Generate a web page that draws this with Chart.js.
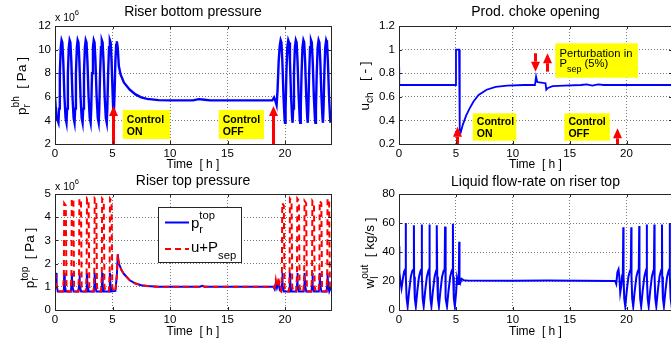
<!DOCTYPE html>
<html><head><meta charset="utf-8">
<script src="https://cdn.jsdelivr.net/npm/chart.js@4.4.1/dist/chart.umd.min.js"></script>
<style>
html,body{margin:0;padding:0;background:#fff;width:671px;height:343px;overflow:hidden;position:relative}
canvas{position:absolute}
</style></head><body>
<canvas id="c1" width="336" height="172" style="left:0;top:0"></canvas>
<canvas id="c2" width="336" height="172" style="left:336px;top:0"></canvas>
<canvas id="c3" width="336" height="171" style="left:0;top:172px"></canvas>
<canvas id="c4" width="336" height="171" style="left:336px;top:172px"></canvas>
<script>
// ---------- tick labels ----------
const X_TICKS = [0, 5, 10, 15, 20];
const Y_TICKS_PBH = [2, 4, 6, 8, 10, 12];
const Y_TICKS_U = [0.2, 0.4, 0.6, 0.8, 1, 1.2];
const Y_TICKS_PTOP = [0, 1, 2, 3, 4, 5];
const Y_TICKS_W = [0, 20, 40, 60, 80];

// ---------- Riser bottom pressure (x10^6 Pa) ----------
const PBH_T = [0,0.12,
0.30,0.35,0.42,0.50,0.57,0.64,0.72,0.82,0.92,
1.00,1.05,1.12,1.20,1.27,1.34,1.42,1.52,1.62,
1.70,1.75,1.82,1.90,1.97,2.04,2.12,2.22,2.32,
2.40,2.45,2.52,2.60,2.67,2.74,2.82,2.92,3.02,
3.10,3.15,3.22,3.30,3.37,3.44,3.52,3.62,3.72,
3.80,3.85,3.92,4.00,4.07,4.14,4.22,4.32,4.42,
4.50,4.55,4.62,4.70,4.77,4.84,4.92,5.02,
5.10,5.17,5.25,5.32,5.38,5.46,5.55,5.70,6.0,6.5,7.0,7.5,8.0,9.0,10.0,12.0,12.5,13.0,13.5,15.0,18.9,19.05,19.15,19.27,19.35,19.45,19.54,
19.62,19.69,19.77,19.87,19.96,20.00,20.05,20.12,20.20,
20.28,20.35,20.43,20.53,20.62,20.66,20.71,20.78,20.86,
20.94,21.01,21.09,21.19,21.28,21.32,21.37,21.44,21.52,
21.60,21.67,21.75,21.85,21.94,21.98,22.03,22.10,22.18,
22.26,22.33,22.41,22.51,22.60,22.64,22.69,22.76,22.84,
22.92,22.99,23.07,23.17,23.26,23.30,23.35,23.42,23.50,
23.58,23.65,23.73,23.83,23.92,23.96,24.0];
const PBH_V = [6.0,4.3,
3.8,5.0,8.0,10.2,10.8,10.6,9.0,6.0,4.2,
3.8,5.0,8.0,10.2,10.8,10.6,9.0,6.0,4.2,
3.8,5.0,8.0,10.2,10.8,10.6,9.0,6.0,4.2,
3.8,5.0,8.0,10.2,10.8,10.6,9.0,6.0,4.2,
3.8,5.0,8.0,10.2,10.8,10.6,9.0,6.0,4.2,
3.8,5.0,8.0,10.2,10.8,10.6,9.0,6.0,4.2,
3.8,5.0,8.0,10.2,10.8,10.6,9.0,6.0,
4.0,6.0,9.0,10.4,10.7,10.1,8.6,7.9,7.2,6.6,6.2,5.95,5.82,5.72,5.7,5.7,5.8,5.75,5.7,5.7,5.7,5.95,5.7,5.3,6.5,9.0,10.3,
10.8,10.6,9.0,6.0,4.2,3.8,5.0,8.0,10.2,
10.8,10.6,9.0,6.0,4.2,3.8,5.0,8.0,10.2,
10.8,10.6,9.0,6.0,4.2,3.8,5.0,8.0,10.2,
10.8,10.6,9.0,6.0,4.2,3.8,5.0,8.0,10.2,
10.8,10.6,9.0,6.0,4.2,3.8,5.0,8.0,10.2,
10.8,10.6,9.0,6.0,4.2,3.8,5.0,8.0,10.2,
10.8,10.6,9.0,6.0,4.2,3.8,4.6];

// ---------- Prod. choke opening ----------
const U_T = [0,0.02,4.99,5.01,5.28,5.34,5.43,5.6,5.9,6.2,6.55,7.0,7.7,8.5,9.5,11.0,11.95,12.05,12.15,12.5,12.88,12.95,13.1,13.5,14.5,16.0,16.5,17.0,17.5,18.0,24.0];
const U_V = [0.85,0.70,0.70,1.0,1.0,0.32,0.30,0.36,0.44,0.50,0.56,0.615,0.66,0.685,0.695,0.70,0.70,0.77,0.725,0.72,0.715,0.66,0.675,0.69,0.695,0.70,0.705,0.695,0.705,0.70,0.70];

// ---------- Riser top pressure (x10^6 Pa) ----------
const PTOP_T = [0,0.04,0.09,0.14,0.24,
0.72,0.78,0.80,0.85,0.95,
1.38,1.44,1.46,1.51,1.61,
2.04,2.10,2.12,2.17,2.27,
2.70,2.76,2.78,2.83,2.93,
3.37,3.43,3.45,3.50,3.60,
4.02,4.08,4.10,4.15,4.25,
4.70,4.76,4.78,4.83,4.93,
5.25,5.38,5.46,5.52,5.6,5.8,6.0,6.5,7.0,7.5,8.0,9.0,12.6,12.8,13.0,19.0,19.1,19.2,19.3,19.45,19.55,
19.68,19.74,19.76,19.81,19.91,
20.35,20.41,20.43,20.48,20.58,
20.99,21.05,21.07,21.12,21.22,
21.62,21.68,21.70,21.75,21.85,
22.30,22.36,22.38,22.43,22.53,
22.94,23.00,23.02,23.07,23.17,
23.62,23.68,23.70,23.75,23.85,24.0];
const PTOP_V = [1.3,1.0,1.6,1.05,0.8,
0.8,1.1,1.6,1.05,0.8,
0.8,1.1,1.6,1.05,0.8,
0.8,1.1,1.6,1.05,0.8,
0.8,1.1,1.6,1.05,0.8,
0.8,1.1,1.6,1.05,0.8,
0.8,1.1,1.6,1.05,0.8,
0.8,1.1,1.6,1.05,0.8,
0.82,1.5,2.4,2.1,1.95,1.7,1.55,1.28,1.14,1.07,1.03,1.0,1.0,1.04,1.0,1.0,0.9,1.15,0.95,1.2,0.85,
0.8,1.1,1.6,1.05,0.8,
0.8,1.1,1.6,1.05,0.8,
0.8,1.1,1.6,1.05,0.8,
0.8,1.1,1.6,1.05,0.8,
0.8,1.1,1.6,1.05,0.8,
0.8,1.1,1.6,1.05,0.8,
0.8,1.1,1.6,1.05,0.8,1.0];

const UPSEP_T = [0,0.05,0.1,0.2,
0.70,0.77,0.80,0.94,1.00,1.10,
1.36,1.43,1.46,1.60,1.66,1.76,
2.02,2.09,2.12,2.26,2.32,2.42,
2.68,2.75,2.78,2.92,2.98,3.08,
3.35,3.42,3.45,3.59,3.65,3.75,
4.00,4.07,4.10,4.24,4.30,4.40,
4.68,4.75,4.78,4.92,4.98,5.08,
5.25,5.38,5.46,5.52,5.6,5.8,6.0,6.5,7.0,7.5,8.0,9.0,12.6,12.8,13.0,19.0,19.1,19.2,19.3,19.45,19.55,
19.66,19.73,19.76,19.90,19.96,20.06,
20.33,20.40,20.43,20.57,20.63,20.73,
20.97,21.04,21.07,21.21,21.27,21.37,
21.60,21.67,21.70,21.84,21.90,22.00,
22.28,22.35,22.38,22.52,22.58,22.68,
22.92,22.99,23.02,23.16,23.22,23.32,
23.60,23.67,23.70,23.84,23.90,24.0];
const UPSEP_V = [1.6,1.5,1.2,0.8,
0.8,1.5,4.6,4.5,1.0,0.8,
0.8,1.5,4.8,4.7,1.0,0.8,
0.8,1.5,4.8,4.7,1.0,0.8,
0.8,1.5,4.8,4.7,1.0,0.8,
0.8,1.5,4.8,4.7,1.0,0.8,
0.8,1.5,4.8,4.7,1.0,0.8,
0.8,1.5,4.8,4.7,1.0,0.8,
0.82,1.5,2.4,2.1,1.95,1.7,1.55,1.28,1.14,1.07,1.03,1.0,1.0,1.04,1.0,1.0,0.95,1.3,1.0,1.4,0.85,
0.8,1.5,4.6,4.5,1.0,0.8,
0.8,1.5,4.8,4.7,1.0,0.8,
0.8,1.5,4.8,4.7,1.0,0.8,
0.8,1.5,4.7,4.6,1.0,0.8,
0.8,1.5,4.7,4.6,1.0,0.8,
0.8,1.5,4.7,4.6,1.0,0.8,
0.8,1.5,4.8,4.7,1.0,0.8];

// ---------- Liquid flow-rate on riser top (kg/s) ----------
const W_T = [0,0.03,0.12,0.22,0.35,0.45,
0.55,0.59,0.61,0.67,0.76,0.89,1.04,1.17,
1.27,1.31,1.33,1.39,1.48,1.61,1.76,1.89,
1.96,2.00,2.02,2.08,2.17,2.30,2.45,2.58,
2.64,2.68,2.70,2.76,2.85,2.98,3.13,3.26,
3.30,3.34,3.36,3.42,3.51,3.64,3.79,3.92,
4.01,4.05,4.07,4.13,4.22,4.35,4.50,4.63,
4.70,4.74,4.76,4.82,4.91,
5.02,5.10,5.20,5.26,5.29,5.32,5.40,5.50,5.70,6.0,10.0,13.0,19.0,19.1,19.2,19.3,19.38,19.45,19.55,19.62,
19.68,19.72,19.74,19.80,19.89,20.02,20.17,20.30,
20.38,20.42,20.44,20.50,20.59,20.72,20.87,21.00,
21.08,21.12,21.14,21.20,21.29,21.42,21.57,21.70,
21.74,21.78,21.80,21.86,21.95,22.08,22.23,22.36,
22.41,22.45,22.47,22.53,22.62,22.75,22.90,23.03,
23.08,23.12,23.14,23.20,23.29,23.42,23.57,23.70,
23.76,23.80,23.82,23.88,23.97,24.0];
const W_V = [44,26,20,15,22,26.5,
28,60,23,8,2.5,13,23,27,
28,58.5,23,8,2.5,13,23,27,
28,59,23,8,2.5,13,23,27,
28,59,23,8,2.5,13,23,27,
28,58.5,23,8,2.5,13,23,27,
28,57.5,23,8,2.5,13,23,27,
28,59.5,23,8,2.5,
12,22,18,22,47,22,19,21.5,20.5,20.3,20.2,20.3,20,18,26,28,22,12,17,24,
28,57,23,8,2.5,13,23,27,
28,57,23,8,2.5,13,23,27,
28,58,23,8,2.5,13,23,27,
28,59,23,8,2.5,13,23,27,
28,59,23,8,2.5,13,23,27,
28,59,23,8,2.5,13,23,27,
28,60,23,8,2.5,4];

// ---------- annotation texts ----------
const TXT_ON = ['Control', 'ON'];
const TXT_OFF = ['Control', 'OFF'];

const FONT = '"Liberation Sans", Arial, Helvetica, sans-serif';
const pts = (T, V) => T.map((t, i) => ({x: t, y: V[i]}));

function drawLbl(ctx, L, x, y, rot, align) {
  const fs = L.size, ss = fs * (L.sr || 0.75);
  const F = s => (L.bold ? 'bold ' : '') + s + 'px ' + FONT;
  ctx.save();
  ctx.translate(x, y);
  if (rot) ctx.rotate(-Math.PI / 2);
  ctx.fillStyle = '#000'; ctx.textAlign = 'left'; ctx.textBaseline = 'alphabetic';
  ctx.font = F(fs);
  const wb = ctx.measureText(L.base).width, wr = L.rest ? ctx.measureText(L.rest).width : 0;
  ctx.font = F(ss);
  const w1 = L.sub ? ctx.measureText(L.sub).width : 0, w2 = L.sup ? ctx.measureText(L.sup).width : 0;
  const ws = Math.max(w1, w2), W = wb + ws + wr;
  const x0 = align === 'center' ? -W / 2 : 0;
  ctx.font = F(fs); ctx.fillText(L.base, x0, 0);
  ctx.font = F(ss);
  if (L.sub) ctx.fillText(L.sub, x0 + wb, fs * (L.subDy ?? 0.32));
  if (L.sup) ctx.fillText(L.sup, x0 + wb, -fs * (L.supDy ?? 0.48));
  if (L.rest) { ctx.font = F(fs); ctx.fillText(L.rest, x0 + wb + ws, 0); }
  ctx.restore();
}

function deco(spec) {
  return {
    id: 'deco_' + spec.id,
    afterDatasetsDraw(chart) {
      const ctx = chart.ctx, xs = chart.scales.x, ys = chart.scales.y;
      ctx.save();
      (spec.boxes || []).forEach(b => {
        const x0 = xs.getPixelForValue(b.x0), x1 = xs.getPixelForValue(b.x1);
        const y0 = ys.getPixelForValue(b.y1), y1 = ys.getPixelForValue(b.y0);
        ctx.fillStyle = '#ffff00';
        ctx.fillRect(x0, y0, x1 - x0, y1 - y0);
        b.lines.forEach(L => drawLbl(ctx, L, x0 + (b.tx || 4), y0 + L.dy, false, 'left'));
      });
      (spec.arrows || []).forEach(a => {
        const x = Math.round(xs.getPixelForValue(a.x)) + 0.5;
        const yf = ys.getPixelForValue(a.from), yt = ys.getPixelForValue(a.to);
        const dir = yt < yf ? -1 : 1, hl = 10, hw = 4.5;
        ctx.strokeStyle = '#ff0000'; ctx.lineWidth = 3;
        ctx.beginPath(); ctx.moveTo(x, yf); ctx.lineTo(x, yt - dir * hl); ctx.stroke();
        ctx.fillStyle = '#ff0000';
        ctx.beginPath(); ctx.moveTo(x, yt); ctx.lineTo(x - hw, yt - dir * hl); ctx.lineTo(x + hw, yt - dir * hl); ctx.closePath(); ctx.fill();
      });
      ctx.restore();
    },
    afterDraw(chart) {
      const ctx = chart.ctx, a = chart.chartArea, xs = chart.scales.x, ys = chart.scales.y;
      ctx.save();
      // frame
      ctx.strokeStyle = '#262626'; ctx.lineWidth = 1;
      ctx.strokeRect(Math.round(a.left) + 0.5, Math.round(a.top) + 0.5, Math.round(a.right - a.left), Math.round(a.bottom - a.top));
      // inward tick marks
      ctx.beginPath();
      xs.ticks.forEach(t => {
        const px = Math.round(xs.getPixelForValue(t.value)) + 0.5;
        ctx.moveTo(px, a.bottom); ctx.lineTo(px, a.bottom - 3);
        ctx.moveTo(px, a.top); ctx.lineTo(px, a.top + 3);
      });
      ys.ticks.forEach(t => {
        const py = Math.round(ys.getPixelForValue(t.value)) + 0.5;
        ctx.moveTo(a.left, py); ctx.lineTo(a.left + 3, py);
        ctx.moveTo(a.right, py); ctx.lineTo(a.right - 3, py);
      });
      ctx.stroke();
      // title and x label
      const cx = (a.left + a.right) / 2;
      ctx.fillStyle = '#000'; ctx.textAlign = 'center'; ctx.textBaseline = 'middle';
      ctx.font = '14px ' + FONT; ctx.fillText(spec.title, cx, spec.titleY);
      ctx.font = '12px ' + FONT; ctx.fillText('Time  [ h ]', cx, spec.xlabY);
      // y label
      drawLbl(ctx, spec.ylab, spec.ylabX, spec.ylabY, true, 'center');
      if (spec.expo) drawLbl(ctx, {base: 'x 10', sup: '6', size: 10.5, sr: 0.72, supDy: 0.55}, a.left, spec.expoY, false, 'left');
      // legend
      if (spec.legend) {
        const g = spec.legend;
        ctx.fillStyle = '#fff'; ctx.fillRect(g.x0, g.y0, g.x1 - g.x0, g.y1 - g.y0);
        ctx.strokeStyle = '#262626'; ctx.lineWidth = 1;
        ctx.strokeRect(g.x0 + 0.5, g.y0 + 0.5, g.x1 - g.x0, g.y1 - g.y0);
        g.items.forEach(it => {
          ctx.strokeStyle = it.color; ctx.lineWidth = 2; ctx.setLineDash(it.dash || []);
          ctx.beginPath(); ctx.moveTo(g.x0 + 7, it.ly); ctx.lineTo(g.x0 + 31, it.ly); ctx.stroke();
          ctx.setLineDash([]);
          drawLbl(ctx, it.label, g.x0 + 33, it.ty, false, 'left');
        });
      }
      ctx.restore();
    }
  };
}

function makeChart(id, cfg) {
  const tickFont = {family: FONT, size: 11.5};
  const grid = {color: '#7a7a7a', lineWidth: 1, drawTicks: false};
  const border = {display: false, dash: [1, 2]};
  return new Chart(document.getElementById(id), {
    type: 'line',
    data: {datasets: cfg.datasets},
    options: {
      responsive: false, animation: false, devicePixelRatio: 1,
      layout: {padding: cfg.pad},
      plugins: {legend: {display: false}, tooltip: {enabled: false}, title: {display: false}},
      elements: {point: {radius: 0}, line: {tension: 0}},
      scales: {
        x: {
          type: 'linear', min: 0, max: 24,
          afterBuildTicks: s => { s.ticks = X_TICKS.map(v => ({value: v})); },
          afterFit: s => { s.height = cfg.xh; },
          grid: grid, border: border,
          ticks: {font: tickFont, color: '#000', padding: 3, maxRotation: 0, callback: v => String(v)}
        },
        y: {
          type: 'linear', min: cfg.ymin, max: cfg.ymax,
          afterBuildTicks: s => { s.ticks = cfg.yticks.map(v => ({value: v})); },
          afterFit: s => { s.width = cfg.yw; },
          grid: grid, border: border,
          ticks: {font: tickFont, color: '#000', padding: 4, callback: v => String(v)}
        }
      }
    },
    plugins: [deco(cfg)]
  });
}

makeChart('c1', {
  id: 1, pad: {left: 0, top: 26, right: 5, bottom: 0}, yw: 55, xh: 28,
  ymin: 2, ymax: 12, yticks: Y_TICKS_PBH,
  datasets: [{data: pts(PBH_T, PBH_V), borderColor: '#0000ff', borderWidth: 2.4}],
  title: 'Riser bottom pressure', titleY: 12, xlabY: 165,
  ylab: {base: 'p', sub: 'r', sup: 'bh', rest: '  [ Pa ]', size: 13.5, sr: 0.75},
  ylabX: 25.5, ylabY: 86, expo: true, expoY: 21,
  boxes: [
    {x0: 5.9, x1: 10.0, y0: 2.42, y1: 4.88, tx: 4, lines: [{base: TXT_ON[0], size: 10.5, bold: true, dy: 12.7}, {base: TXT_ON[1], size: 10.5, bold: true, dy: 25}]},
    {x0: 14.24, x1: 18.17, y0: 2.42, y1: 4.88, tx: 4, lines: [{base: TXT_OFF[0], size: 10.5, bold: true, dy: 12.7}, {base: TXT_OFF[1], size: 10.5, bold: true, dy: 25}]}
  ],
  arrows: [{x: 5.08, from: 2, to: 5.22}, {x: 18.98, from: 2, to: 5.22}]
});

makeChart('c2', {
  id: 2, pad: {left: 0, top: 26, right: 0, bottom: 0}, yw: 63, xh: 28,
  ymin: 0.2, ymax: 1.2, yticks: Y_TICKS_U,
  datasets: [{data: pts(U_T, U_V), borderColor: '#0000ff', borderWidth: 1.8}],
  title: 'Prod. choke opening', titleY: 12, xlabY: 165,
  ylab: {base: 'u', sub: 'ch', rest: '   [ - ]', size: 13.5, sr: 0.75},
  ylabX: 33, ylabY: 86,
  boxes: [
    {x0: 6.49, x1: 10.31, y0: 0.228, y1: 0.46, tx: 4, lines: [{base: TXT_ON[0], size: 10.5, bold: true, dy: 11.7}, {base: TXT_ON[1], size: 10.5, bold: true, dy: 24}]},
    {x0: 14.54, x1: 18.53, y0: 0.228, y1: 0.46, tx: 4, lines: [{base: TXT_OFF[0], size: 10.5, bold: true, dy: 11.7}, {base: TXT_OFF[1], size: 10.5, bold: true, dy: 24}]},
    {x0: 13.74, x1: 21.0, y0: 0.762, y1: 1.053, tx: 4.3, lines: [{base: 'Perturbation in', size: 11.2, dy: 13.4}, {base: 'P', sub: 'sep', rest: ' (5%)', size: 11.2, sr: 0.8, subDy: 0.4, dy: 24}]}
  ],
  arrows: [{x: 5.08, from: 0.2, to: 0.347}, {x: 19.18, from: 0.2, to: 0.333}, {x: 11.98, from: 0.969, to: 0.813}, {x: 13.01, from: 0.813, to: 0.969}]
});

makeChart('c3', {
  id: 3, pad: {left: 0, top: 22, right: 5, bottom: 0}, yw: 55, xh: 33,
  ymin: 0, ymax: 5, yticks: Y_TICKS_PTOP,
  datasets: [
    {data: pts(UPSEP_T, UPSEP_V), borderColor: '#ff0000', borderWidth: 2, borderDash: [6, 4], order: 0},
    {data: pts(PTOP_T, PTOP_V), borderColor: '#0000ff', borderWidth: 2, order: 1}
  ],
  title: 'Riser top pressure', titleY: 9.5, xlabY: 160,
  ylab: {base: 'p', sub: 'r', sup: 'top', rest: '  [ Pa ]', size: 13.5, sr: 0.75},
  ylabX: 34, ylabY: 86, expo: true, expoY: 18,
  legend: {x0: 158, y0: 35, x1: 241, y1: 90, items: [
    {color: '#0000ff', ly: 50.5, ty: 56, label: {base: 'p', sub: 'r', sup: 'top', size: 15, sr: 0.75, supDy: 0.6, subDy: 0.3}},
    {color: '#ff0000', dash: [6, 4], ly: 77, ty: 80, label: {base: 'u+P', sub: 'sep', size: 15, sr: 0.75, subDy: 0.45}}
  ]}
});

makeChart('c4', {
  id: 4, pad: {left: 0, top: 22, right: 0, bottom: 0}, yw: 63, xh: 33,
  ymin: 0, ymax: 80, yticks: Y_TICKS_W,
  datasets: [{data: pts(W_T, W_V), borderColor: '#0000ff', borderWidth: 2}],
  title: 'Liquid flow-rate on riser top', titleY: 10, xlabY: 160,
  ylab: {base: 'w', sub: 'l', sup: 'out', rest: '  [ kg/s ]', size: 13.5, sr: 0.75},
  ylabX: 38, ylabY: 81
});
</script>
</body></html>
